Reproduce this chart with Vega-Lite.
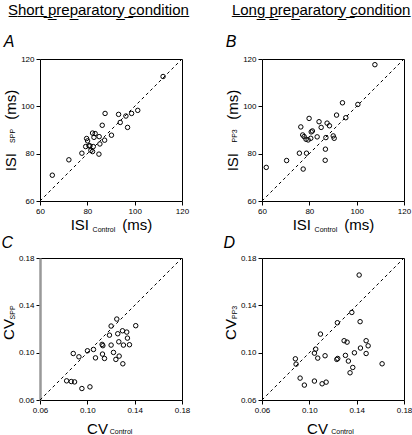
{
  "$schema": "https://vega.github.io/schema/vega-lite/v6.json",
  "padding": {"left": 0, "top": 2, "right": 2, "bottom": 1},
  "config": {
    "font": "Liberation Sans",
    "view": {"stroke": "black", "strokeWidth": 1},
    "axis": {"grid": false, "domain": false, "tickColor": "black", "tickSize": 4, "labelFontSize": 8, "labelColor": "black", "labelPadding": 2, "titleFontSize": 15, "titleFontWeight": "normal", "titleColor": "black", "labelFlush": false},
    "title": {"fontWeight": "normal", "color": "black"}
  },
  "datasets": {
    "one": [{"n": 1}],
    "isiShort": [
      {"control": 65.2, "spp": 70.9}, {"control": 72.2, "spp": 77.4}, {"control": 77.7, "spp": 80.2}, {"control": 79.3, "spp": 83.0},
      {"control": 79.7, "spp": 86.4}, {"control": 80.1, "spp": 85.4}, {"control": 80.7, "spp": 83.3}, {"control": 81.1, "spp": 83.3},
      {"control": 81.5, "spp": 81.4}, {"control": 82.2, "spp": 80.9}, {"control": 82.5, "spp": 83.0}, {"control": 82.2, "spp": 88.7},
      {"control": 83.3, "spp": 88.5}, {"control": 82.8, "spp": 86.9}, {"control": 85.0, "spp": 87.2}, {"control": 85.3, "spp": 84.1},
      {"control": 84.9, "spp": 79.8}, {"control": 87.3, "spp": 85.7}, {"control": 86.3, "spp": 92.0}, {"control": 87.5, "spp": 97.0},
      {"control": 90.2, "spp": 87.8}, {"control": 93.2, "spp": 96.6}, {"control": 93.9, "spp": 93.2}, {"control": 96.3, "spp": 95.9},
      {"control": 97.0, "spp": 91.1}, {"control": 98.7, "spp": 97.0}, {"control": 101.3, "spp": 98.3}, {"control": 112.0, "spp": 112.6}
    ],
    "isiLong": [
      {"control": 61.8, "pp3": 74.2}, {"control": 70.4, "pp3": 77.1}, {"control": 75.8, "pp3": 80.2}, {"control": 77.4, "pp3": 73.5},
      {"control": 78.8, "pp3": 80.2}, {"control": 76.4, "pp3": 91.3}, {"control": 77.2, "pp3": 87.9}, {"control": 77.8, "pp3": 87.2},
      {"control": 78.6, "pp3": 86.1}, {"control": 79.5, "pp3": 85.8}, {"control": 79.9, "pp3": 94.9}, {"control": 80.6, "pp3": 86.5},
      {"control": 80.8, "pp3": 89.2}, {"control": 81.3, "pp3": 89.6}, {"control": 83.3, "pp3": 87.1}, {"control": 84.1, "pp3": 93.5},
      {"control": 85.0, "pp3": 91.1}, {"control": 87.0, "pp3": 86.8}, {"control": 86.8, "pp3": 81.9}, {"control": 86.7, "pp3": 77.2},
      {"control": 87.5, "pp3": 92.9}, {"control": 88.5, "pp3": 91.8}, {"control": 90.1, "pp3": 87.5}, {"control": 90.5, "pp3": 86.5},
      {"control": 91.5, "pp3": 96.3}, {"control": 94.0, "pp3": 101.5}, {"control": 95.4, "pp3": 95.2}, {"control": 100.5, "pp3": 100.8},
      {"control": 107.7, "pp3": 117.6}
    ],
    "cvShort": [
      {"control": 0.0825, "spp": 0.0762}, {"control": 0.0864, "spp": 0.0756}, {"control": 0.0892, "spp": 0.0753}, {"control": 0.0954, "spp": 0.0697},
      {"control": 0.1022, "spp": 0.0711}, {"control": 0.0881, "spp": 0.0993}, {"control": 0.0929, "spp": 0.0965}, {"control": 0.1001, "spp": 0.1016},
      {"control": 0.1052, "spp": 0.1027}, {"control": 0.1069, "spp": 0.0956}, {"control": 0.1125, "spp": 0.1070}, {"control": 0.1128, "spp": 0.0988},
      {"control": 0.1145, "spp": 0.0951}, {"control": 0.1131, "spp": 0.1059}, {"control": 0.1187, "spp": 0.1148}, {"control": 0.1201, "spp": 0.1225},
      {"control": 0.1201, "spp": 0.1064}, {"control": 0.1221, "spp": 0.1002}, {"control": 0.1241, "spp": 0.0943}, {"control": 0.1249, "spp": 0.1284},
      {"control": 0.1257, "spp": 0.1160}, {"control": 0.1266, "spp": 0.1092}, {"control": 0.1269, "spp": 0.0971}, {"control": 0.1297, "spp": 0.1185},
      {"control": 0.1300, "spp": 0.0906}, {"control": 0.1305, "spp": 0.1064}, {"control": 0.1333, "spp": 0.1174}, {"control": 0.1339, "spp": 0.1123},
      {"control": 0.1356, "spp": 0.1067}, {"control": 0.1409, "spp": 0.1228}
    ],
    "cvLong": [
      {"control": 0.0882, "pp3": 0.0948}, {"control": 0.0888, "pp3": 0.0903}, {"control": 0.0922, "pp3": 0.0785}, {"control": 0.0958, "pp3": 0.0726},
      {"control": 0.1043, "pp3": 0.0996}, {"control": 0.1054, "pp3": 0.1030}, {"control": 0.1071, "pp3": 0.0954}, {"control": 0.1094, "pp3": 0.1157},
      {"control": 0.1043, "pp3": 0.0760}, {"control": 0.1108, "pp3": 0.0737}, {"control": 0.1142, "pp3": 0.0751}, {"control": 0.1133, "pp3": 0.0974},
      {"control": 0.1232, "pp3": 0.0943}, {"control": 0.1240, "pp3": 0.0951}, {"control": 0.1237, "pp3": 0.1253}, {"control": 0.1294, "pp3": 0.1101},
      {"control": 0.1319, "pp3": 0.1089}, {"control": 0.1305, "pp3": 0.0977}, {"control": 0.1330, "pp3": 0.0929}, {"control": 0.1344, "pp3": 0.0830},
      {"control": 0.1367, "pp3": 0.0875}, {"control": 0.1381, "pp3": 0.0999}, {"control": 0.1359, "pp3": 0.1340}, {"control": 0.1421, "pp3": 0.1656},
      {"control": 0.1429, "pp3": 0.1262}, {"control": 0.1432, "pp3": 0.1039}, {"control": 0.1480, "pp3": 0.1101}, {"control": 0.1497, "pp3": 0.1058},
      {"control": 0.1480, "pp3": 0.0993}, {"control": 0.1615, "pp3": 0.0906}
    ]
  },
  "hconcat": [
    {
      "title": {"text": "S\u0332h\u0332o\u0332r\u0332t\u0332 \u0332p\u0332r\u0332e\u0332p\u0332a\u0332r\u0332a\u0332t\u0332o\u0332r\u0332y\u0332 \u0332c\u0332o\u0332n\u0332d\u0332i\u0332t\u0332i\u0332o\u0332n\u0332", "fontSize": 15, "anchor": "start", "dx": 7, "offset": 16},
      "spacing": 0,
      "vconcat": [
        {
          "width": 142, "height": 142,
          "title": {"text": "A", "anchor": "start", "frame": "bounds", "fontSize": 16, "fontStyle": "italic", "offset": 5},
          "layer": [
            {
              "data": {"name": "isiShort"},
              "mark": {"type": "point", "filled": false, "color": "black", "size": 20, "strokeWidth": 1, "opacity": 1},
              "encoding": {
                "x": {"field": "control", "type": "quantitative", "scale": {"domain": [60, 120], "nice": false, "zero": false}, "axis": {"values": [60, 80, 100, 120], "title": "ISI\u00a0\u00a0\u00a0\u00a0\u00a0\u00a0\u00a0\u00a0(ms)", "titlePadding": 2}},
                "y": {"field": "spp", "type": "quantitative", "scale": {"domain": [60, 120], "nice": false, "zero": false}, "axis": {"values": [60, 80, 100, 120], "title": "ISI\u00a0\u00a0\u00a0\u00a0\u00a0\u00a0\u00a0\u00a0(ms)", "titlePadding": 2}}
              }
            },
            {
              "data": {"name": "one"},
              "mark": {"type": "rule", "strokeDash": [3, 3], "color": "black", "strokeWidth": 1},
              "encoding": {"x": {"datum": 60, "type": "quantitative"}, "y": {"datum": 60, "type": "quantitative"}, "x2": {"datum": 120}, "y2": {"datum": 120}}
            },
            {
              "data": {"name": "one"},
              "mark": {"type": "text", "fontSize": 7, "text": "Control", "align": "center", "baseline": "alphabetic", "color": "black", "fill": "black"},
              "encoding": {"x": {"datum": 87, "type": "quantitative"}, "y": {"datum": 47.1, "type": "quantitative"}}
            },
            {
              "data": {"name": "one"},
              "mark": {"type": "text", "fontSize": 7, "text": "SPP", "angle": 270, "align": "center", "baseline": "alphabetic", "color": "black", "fill": "black"},
              "encoding": {"x": {"datum": 49.6, "type": "quantitative"}, "y": {"datum": 87.5, "type": "quantitative"}}
            }
          ]
        },
        {
          "width": 142, "height": 142,
          "title": {"text": "C", "anchor": "start", "frame": "bounds", "fontSize": 16, "fontStyle": "italic", "offset": 3},
          "layer": [
            {
              "data": {"name": "cvShort"},
              "mark": {"type": "point", "filled": false, "color": "black", "size": 20, "strokeWidth": 1, "opacity": 1},
              "encoding": {
                "x": {"field": "control", "type": "quantitative", "scale": {"domain": [0.06, 0.18], "nice": false, "zero": false}, "axis": {"values": [0.06, 0.10, 0.14, 0.18], "format": ".2f", "title": "CV", "titleX": 57, "titleAlign": "center", "titlePadding": 7}},
                "y": {"field": "spp", "type": "quantitative", "scale": {"domain": [0.06, 0.18], "nice": false, "zero": false}, "axis": {"values": [0.06, 0.10, 0.14, 0.18], "format": ".2f", "title": "CV", "titlePadding": 2, "domain": true, "domainColor": "#999999", "domainWidth": 2.5}}
              }
            },
            {
              "data": {"name": "one"},
              "mark": {"type": "rule", "strokeDash": [3, 3], "color": "black", "strokeWidth": 1},
              "encoding": {"x": {"datum": 0.06, "type": "quantitative"}, "y": {"datum": 0.06, "type": "quantitative"}, "x2": {"datum": 0.18}, "y2": {"datum": 0.18}}
            },
            {
              "data": {"name": "one"},
              "mark": {"type": "text", "fontSize": 7, "text": "Control", "align": "center", "baseline": "alphabetic", "color": "black", "fill": "black"},
              "encoding": {"x": {"datum": 0.1285, "type": "quantitative"}, "y": {"datum": 0.0314, "type": "quantitative"}}
            },
            {
              "data": {"name": "one"},
              "mark": {"type": "text", "fontSize": 7, "text": "SPP", "angle": 270, "align": "center", "baseline": "alphabetic", "color": "black", "fill": "black"},
              "encoding": {"x": {"datum": 0.0392, "type": "quantitative"}, "y": {"datum": 0.134, "type": "quantitative"}}
            }
          ]
        }
      ]
    },
    {
      "title": {"text": "L\u0332o\u0332n\u0332g\u0332 \u0332p\u0332r\u0332e\u0332p\u0332a\u0332r\u0332a\u0332t\u0332o\u0332r\u0332y\u0332 \u0332c\u0332o\u0332n\u0332d\u0332i\u0332t\u0332i\u0332o\u0332n\u0332", "fontSize": 15, "anchor": "start", "dx": 9, "offset": 16},
      "spacing": 0,
      "vconcat": [
        {
          "width": 142, "height": 142,
          "title": {"text": "B", "anchor": "start", "frame": "bounds", "fontSize": 16, "fontStyle": "italic", "offset": 5},
          "layer": [
            {
              "data": {"name": "isiLong"},
              "mark": {"type": "point", "filled": false, "color": "black", "size": 20, "strokeWidth": 1, "opacity": 1},
              "encoding": {
                "x": {"field": "control", "type": "quantitative", "scale": {"domain": [60, 120], "nice": false, "zero": false}, "axis": {"values": [60, 80, 100, 120], "title": "ISI\u00a0\u00a0\u00a0\u00a0\u00a0\u00a0\u00a0\u00a0(ms)", "titlePadding": 2}},
                "y": {"field": "pp3", "type": "quantitative", "scale": {"domain": [60, 120], "nice": false, "zero": false}, "axis": {"values": [60, 80, 100, 120], "title": "ISI\u00a0\u00a0\u00a0\u00a0\u00a0\u00a0\u00a0\u00a0(ms)", "titlePadding": 2}}
              }
            },
            {
              "data": {"name": "one"},
              "mark": {"type": "rule", "strokeDash": [3, 3], "color": "black", "strokeWidth": 1},
              "encoding": {"x": {"datum": 60, "type": "quantitative"}, "y": {"datum": 60, "type": "quantitative"}, "x2": {"datum": 120}, "y2": {"datum": 120}}
            },
            {
              "data": {"name": "one"},
              "mark": {"type": "text", "fontSize": 7, "text": "Control", "align": "center", "baseline": "alphabetic", "color": "black", "fill": "black"},
              "encoding": {"x": {"datum": 87, "type": "quantitative"}, "y": {"datum": 47.1, "type": "quantitative"}}
            },
            {
              "data": {"name": "one"},
              "mark": {"type": "text", "fontSize": 7, "text": "PP3", "angle": 270, "align": "center", "baseline": "alphabetic", "color": "black", "fill": "black"},
              "encoding": {"x": {"datum": 49.6, "type": "quantitative"}, "y": {"datum": 87.5, "type": "quantitative"}}
            }
          ]
        },
        {
          "width": 142, "height": 142,
          "title": {"text": "D", "anchor": "start", "frame": "bounds", "fontSize": 16, "fontStyle": "italic", "offset": 3},
          "layer": [
            {
              "data": {"name": "cvLong"},
              "mark": {"type": "point", "filled": false, "color": "black", "size": 20, "strokeWidth": 1, "opacity": 1},
              "encoding": {
                "x": {"field": "control", "type": "quantitative", "scale": {"domain": [0.06, 0.18], "nice": false, "zero": false}, "axis": {"values": [0.06, 0.10, 0.14, 0.18], "format": ".2f", "title": "CV", "titleX": 55, "titleAlign": "center", "titlePadding": 7}},
                "y": {"field": "pp3", "type": "quantitative", "scale": {"domain": [0.06, 0.18], "nice": false, "zero": false}, "axis": {"values": [0.06, 0.10, 0.14, 0.18], "format": ".2f", "title": "CV", "titlePadding": 2}}
              }
            },
            {
              "data": {"name": "one"},
              "mark": {"type": "rule", "strokeDash": [3, 3], "color": "black", "strokeWidth": 1},
              "encoding": {"x": {"datum": 0.06, "type": "quantitative"}, "y": {"datum": 0.06, "type": "quantitative"}, "x2": {"datum": 0.18}, "y2": {"datum": 0.18}}
            },
            {
              "data": {"name": "one"},
              "mark": {"type": "text", "fontSize": 7, "text": "Control", "align": "center", "baseline": "alphabetic", "color": "black", "fill": "black"},
              "encoding": {"x": {"datum": 0.128, "type": "quantitative"}, "y": {"datum": 0.0314, "type": "quantitative"}}
            },
            {
              "data": {"name": "one"},
              "mark": {"type": "text", "fontSize": 7, "text": "PP3", "angle": 270, "align": "center", "baseline": "alphabetic", "color": "black", "fill": "black"},
              "encoding": {"x": {"datum": 0.0392, "type": "quantitative"}, "y": {"datum": 0.134, "type": "quantitative"}}
            }
          ]
        }
      ]
    }
  ],
  "spacing": 31
}
